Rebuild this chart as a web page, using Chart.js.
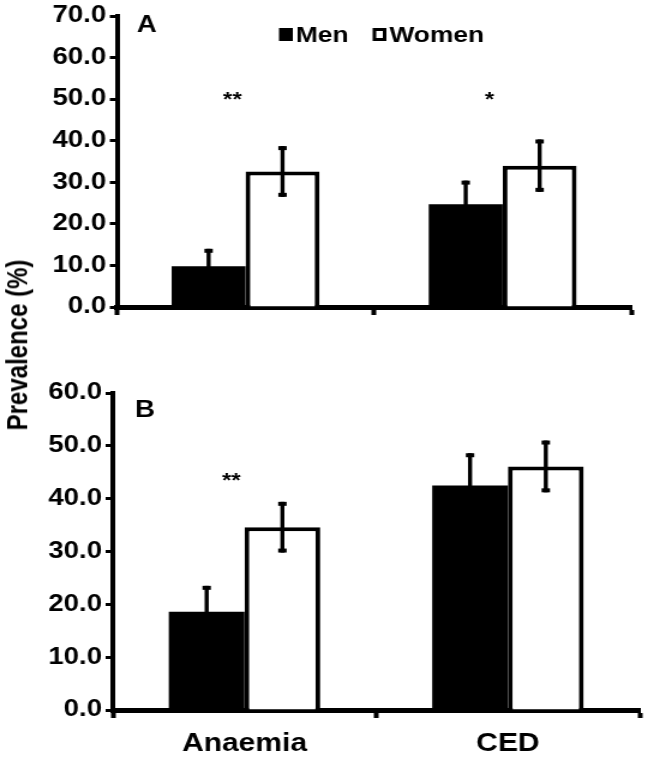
<!DOCTYPE html>
<html>
<head>
  <meta charset="UTF-8" />
  <title>Prevalence by sex</title>
  <script src="https://cdn.jsdelivr.net/npm/chart.js"></script>
  <style>
    body { margin: 0; background: #fff; }
    #wrap {
      position: relative;
      width: 648px;
      height: 757px;
      font-family: "Liberation Sans", Arial, sans-serif;
    }
    canvas { position: absolute; left: 0; }
    #chartA { top: 0; }
    #chartB { top: 330px; }
    #ytitle {
      position: absolute;
      left: 18px;
      top: 345px;
      transform: translate(-50%, -50%) scale(1.2, 1) rotate(-90deg);
      font-weight: bold;
      font-size: 24px;
      white-space: nowrap;
      color: #000;
    }
  </style>
</head>
<body>
  <div id="wrap">
    <!-- the source figure is stretched ~1.2x horizontally, so the canvases are
         drawn 540px wide and shown 648px wide -->
    <canvas id="chartA" width="540" height="330" style="width:648px;height:330px"></canvas>
    <canvas id="chartB" width="540" height="427" style="width:648px;height:427px"></canvas>
    <div id="ytitle">Prevalence (%)</div>
  </div>

  <script>
    const categories = ['Anaemia', 'CED'];
    const seriesNames = ['Men', 'Women'];

    // panel A
    const menA = [9.8, 24.7];
    const menErrA = [4.2, 5.7];
    const womenA = [32.6, 34.0];
    const womenErrA = [6.1, 6.3];
    const sigA = ['**', '*'];
    const sigLevelA = [48.3, 48.3];
    const yMaxA = 70;

    // panel B
    const menB = [18.6, 42.5];
    const menErrB = [4.9, 6.1];
    const womenB = [34.6, 46.1];
    const womenErrB = [4.8, 4.9];
    const sigB = ['**', ''];
    const sigLevelB = [42.2, 42.2];
    const yMaxB = 60;

    const yStep = 10;
    const FONT = '"Liberation Sans", Arial, sans-serif';

    // error bars, panel letter, significance stars, legend
    const extras = {
      id: 'extras',
      afterDatasetsDraw(chart, args, opts) {
        const ctx = chart.ctx;
        const y = chart.scales.y;
        const x = chart.scales.x;
        ctx.save();
        ctx.strokeStyle = '#000';
        ctx.fillStyle = '#000';
        chart.data.datasets.forEach((ds, di) => {
          const meta = chart.getDatasetMeta(di);
          meta.data.forEach((bar, i) => {
            const v = ds.data[i], e = ds.errors[i];
            const top = y.getPixelForValue(v + e);
            const bot = y.getPixelForValue(v - e);
            ctx.lineWidth = 3.4;
            ctx.beginPath();
            ctx.moveTo(bar.x, top);
            ctx.lineTo(bar.x, bot);
            ctx.stroke();
            ctx.fillRect(bar.x - 3.5, top, 7, 4);
            ctx.fillRect(bar.x - 3.5, bot - 4, 7, 4);
          });
        });

        ctx.font = 'bold 23px ' + FONT;
        ctx.textBaseline = 'alphabetic';
        ctx.textAlign = 'left';
        ctx.fillText(opts.letter, opts.letterX, opts.letterY);

        ctx.font = 'bold 20px ' + FONT;
        ctx.textAlign = 'center';
        opts.sig.forEach((s, i) => {
          if (!s) return;
          ctx.fillText(s, x.getPixelForValue(i) - 11, y.getPixelForValue(opts.sigLevel[i]));
        });

        if (opts.legend) {
          ctx.font = 'bold 22px ' + FONT;
          ctx.textAlign = 'left';
          let lx = 232.5;
          chart.data.datasets.forEach(ds => {
            if (ds.backgroundColor === '#000') {
              ctx.fillRect(lx, 28, 11.5, 13);
            } else {
              ctx.lineWidth = 3;
              ctx.strokeRect(lx + 1.5, 29.5, 8.5, 10);
            }
            ctx.fillText(ds.label, lx + 14, 42);
            lx += 14 + ctx.measureText(ds.label).width + 20;
          });
        }
        ctx.restore();
      }
    };

    function makeChart(id, men, menErr, women, womenErr, yMax, opts) {
      return new Chart(document.getElementById(id), {
        type: 'bar',
        data: {
          labels: categories,
          datasets: [
            { label: seriesNames[0], data: men, errors: menErr,
              backgroundColor: '#000', borderWidth: 0 },
            { label: seriesNames[1], data: women, errors: womenErr,
              backgroundColor: '#fff', borderColor: '#000', borderWidth: 4 }
          ]
        },
        options: {
          responsive: false,
          animation: false,
          events: [],
          barPercentage: 1.0,
          categoryPercentage: 0.575,
          layout: { padding: { top: opts.padTop, right: opts.padRight, left: 0, bottom: 0 } },
          scales: {
            x: {
              afterFit: s => { s.height = opts.xHeight; },
              border: { display: true, color: '#000', width: 5 },
              grid: { display: true, drawOnChartArea: false, offset: true,
                      color: '#000', tickLength: 8, tickWidth: 4 },
              ticks: {
                display: opts.showX,
                color: '#000',
                padding: 11,
                font: { family: FONT, size: 25, weight: 'bold' }
              }
            },
            y: {
              min: 0,
              max: yMax,
              afterFit: s => { s.width = opts.yWidth; },
              border: { display: true, color: '#000', width: 4 },
              grid: { display: true, drawOnChartArea: false,
                      color: '#000', tickLength: 6, tickWidth: 3 },
              ticks: {
                stepSize: yStep,
                color: '#000',
                padding: 3,
                font: { family: FONT, size: 23, weight: 'bold', lineHeight: 1 },
                callback: v => v.toFixed(1)
              }
            }
          },
          plugins: {
            legend: { display: false },
            tooltip: { enabled: false },
            extras: opts.extras
          }
        },
        plugins: [extras]
      });
    }

    makeChart('chartA', menA, menErrA, womenA, womenErrA, yMaxA, {
      padTop: 16, padRight: 14, xHeight: 23, yWidth: 97.5, showX: false,
      extras: { letter: 'A', letterX: 114, letterY: 32, sig: sigA, sigLevel: sigLevelA, legend: true }
    });

    makeChart('chartB', menB, menErrB, womenB, womenErrB, yMaxB, {
      padTop: 63, padRight: 7, xHeight: 47, yWidth: 94, showX: true,
      extras: { letter: 'B', letterX: 112.5, letterY: 87, sig: sigB, sigLevel: sigLevelB, legend: false }
    });
  </script>
</body>
</html>
